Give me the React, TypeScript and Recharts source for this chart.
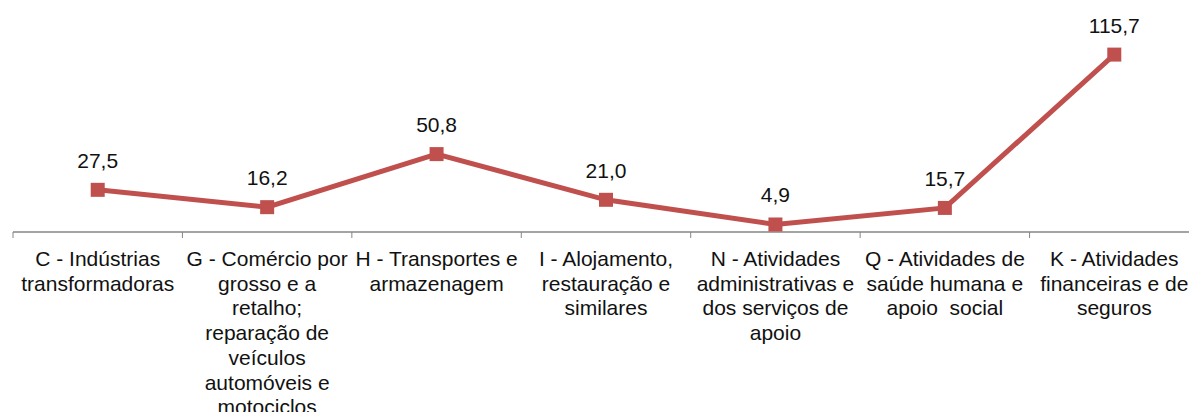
import React from 'react';
import { LineChart, Line, XAxis, YAxis, LabelList } from 'recharts';

const categories = [
  'C - Indústrias\ntransformadoras',
  'G - Comércio por\ngrosso e a\nretalho;\nreparação de\nveículos\nautomóveis e\nmotociclos',
  'H - Transportes e\narmazenagem',
  'I - Alojamento,\nrestauração e\nsimilares',
  'N - Atividades\nadministrativas e\ndos serviços de\napoio',
  'Q - Atividades de\nsaúde humana e\napoio  social',
  'K - Atividades\nfinanceiras e de\nseguros',
];

const values = [27.5, 16.2, 50.8, 21.0, 4.9, 15.7, 115.7];

const yDomain = [0, 120];

const data = categories.map((name, i) => ({ name, value: values[i] }));

const RED = '#C0504D';
const AXIS = '#868686';
const FONT = '"Liberation Sans", Arial, sans-serif';
const WIDTH = 1199;
const LEFT = 13;
const HALF = (WIDTH - LEFT) / categories.length / 2;

const CategoryTick = (props: any) => {
  const { x, y, payload } = props;
  const lines: string[] = String(payload.value).split('\n');
  return (
    <g>
      <line x1={x - HALF} x2={x - HALF} y1={y} y2={y + 6} stroke={AXIS} strokeWidth={1} />
      <text
        x={x}
        y={y + 34}
        textAnchor="middle"
        fill="#111"
        fontSize={21}
        fontFamily={FONT}
        style={{ whiteSpace: 'pre' }}
      >
        {lines.map((l, i) => (
          <tspan key={i} x={x} dy={i === 0 ? 0 : 24.7}>
            {l}
          </tspan>
        ))}
      </text>
    </g>
  );
};

const SquareDot = (props: any) => {
  const { cx, cy } = props;
  if (cx == null || cy == null) return null;
  return <rect x={cx - 7} y={cy - 7} width={14} height={14} fill={RED} />;
};

const ValueLabel = (props: any) => {
  const { x, y, value } = props;
  return (
    <text x={x} y={y - 22} textAnchor="middle" fill="#111" fontSize={21} fontFamily={FONT}>
      {Number(value).toFixed(1).replace('.', ',')}
    </text>
  );
};

export default function App() {
  return (
    <div
      style={{
        position: 'absolute',
        left: 0,
        top: 0,
        width: 1189,
        height: 412,
        overflow: 'hidden',
        background: '#fff',
      }}
    >
      <LineChart
        width={WIDTH}
        height={412}
        data={data}
        margin={{ top: 48, right: 0, bottom: 0, left: LEFT }}
      >
        <XAxis
          dataKey="name"
          interval={0}
          height={180}
          tickSize={0}
          tickMargin={0}
          tickLine={false}
          axisLine={{ stroke: AXIS, strokeWidth: 1.5 }}
          padding={{ left: HALF, right: HALF }}
          tick={<CategoryTick />}
        />
        <YAxis hide domain={yDomain} />
        <Line
          type="linear"
          dataKey="value"
          stroke={RED}
          strokeWidth={5}
          dot={<SquareDot />}
          activeDot={false}
          isAnimationActive={false}
        >
          <LabelList dataKey="value" content={<ValueLabel />} />
        </Line>
      </LineChart>
    </div>
  );
}
